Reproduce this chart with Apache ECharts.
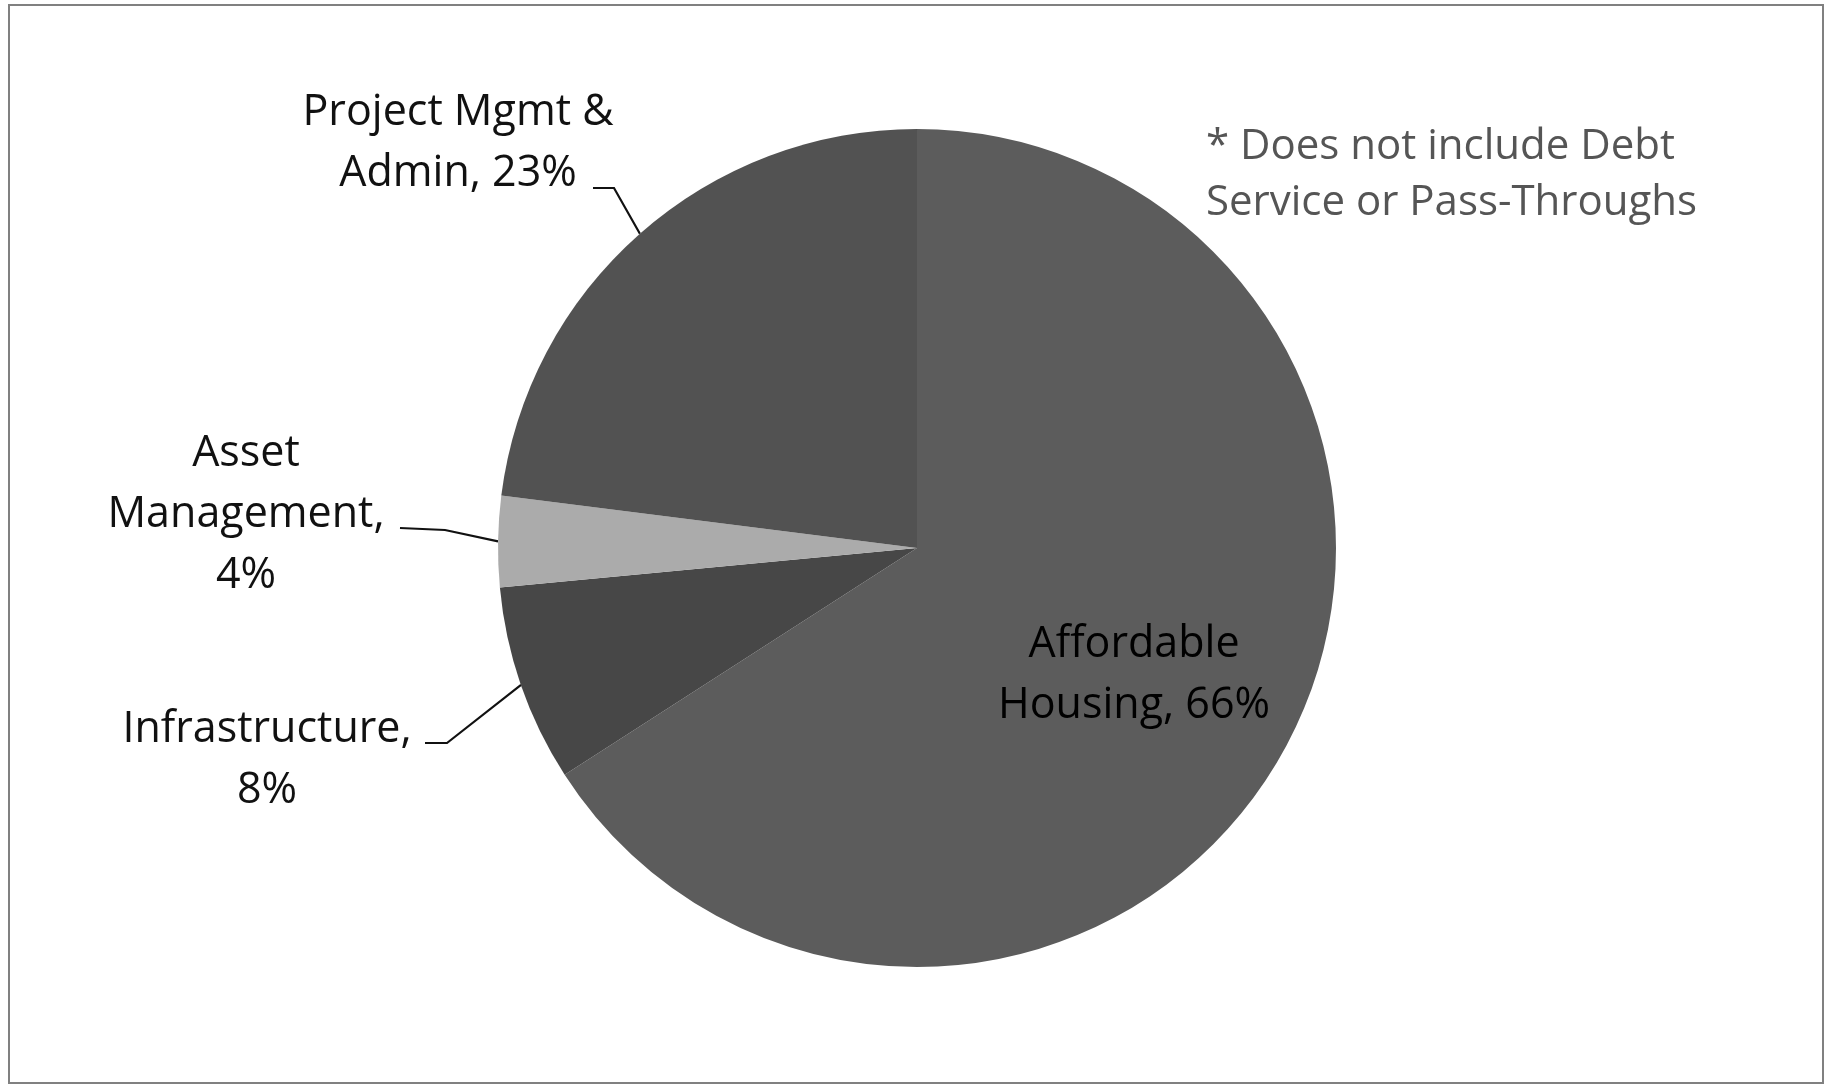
<!DOCTYPE html>
<html>
<head>
<meta charset="utf-8">
<script src="https://cdn.jsdelivr.net/npm/echarts@6/dist/echarts.min.js"></script>
<style>
  html, body { margin: 0; padding: 0; background: #ffffff; }
  #chart { width: 1826px; height: 1091px; }
</style>
</head>
<body>
<div id="chart"></div>
<script>
// ---- data ----
const categories = ['Affordable Housing', 'Infrastructure', 'Asset Management', 'Project Mgmt & Admin'];
const shares = [65.9, 7.6, 3.5, 23.0];            // percent of total, clockwise from 12 o'clock
const labelTemplates = ['Affordable\nHousing, {p}', 'Infrastructure,\n{p}', 'Asset\nManagement,\n{p}', 'Project Mgmt &\nAdmin, {p}'];
const noteText = '* Does not include Debt\nService or Pass-Throughs';

// ---- styling / layout ----
const sliceColors = ['#5c5c5c', '#474747', '#ababab', '#525252'];
const FONT = '"Open Sans", "Noto Sans", sans-serif';
const labelAnchors = [
  { x: 1134, y: 675, line: null },
  { x: 267, y: 760, line: [[447, 743], [425, 743]] },
  { x: 246, y: 515, line: [[445, 530], [400, 528]] },
  { x: 458, y: 143, line: [[614, 188], [593, 188]] }
];

const chart = echarts.init(document.getElementById('chart'), null, { renderer: 'canvas' });

chart.setOption({
  animation: false,
  backgroundColor: '#ffffff',
  title: {
    text: noteText,
    left: 1201,
    top: 114,
    padding: 5,
    textStyle: {
      fontFamily: FONT,
      fontSize: 42,
      fontWeight: 'normal',
      lineHeight: 56,
      color: '#555555'
    }
  },
  graphic: [{
    type: 'rect',
    shape: { x: 9, y: 5, width: 1814, height: 1078 },
    style: { fill: 'none', stroke: '#808080', lineWidth: 2 },
    silent: true
  }],
  series: [{
    type: 'pie',
    center: [917, 548],
    radius: 419,
    startAngle: 90,
    clockwise: true,
    avoidLabelOverlap: false,
    silent: true,
    itemStyle: { borderWidth: 0 },
    emphasis: { disabled: true },
    label: {
      show: true,
      position: 'outside',
      fontFamily: FONT,
      fontSize: 43,
      lineHeight: 61,
      color: '#111111',
      align: 'center',
      formatter: function (p) {
        return labelTemplates[p.dataIndex].replace('{p}', Math.round(p.value) + '%');
      }
    },
    labelLine: {
      show: true,
      length: 20,
      length2: 20,
      smooth: false,
      lineStyle: { color: '#111111', width: 2.2 }
    },
    labelLayout: function (params) {
      const a = labelAnchors[params.dataIndex];
      const out = { x: a.x, y: a.y, align: 'center', verticalAlign: 'middle' };
      if (a.line && params.labelLinePoints) {
        out.labelLinePoints = [params.labelLinePoints[0], a.line[0], a.line[1]];
      }
      return out;
    },
    data: categories.map(function (name, i) {
      const item = {
        name: name,
        value: shares[i],
        itemStyle: { color: sliceColors[i] }
      };
      if (i === 0) {
        item.labelLine = { show: false };
        item.label = { color: '#000000' };
      }
      return item;
    })
  }]
});
</script>
</body>
</html>
